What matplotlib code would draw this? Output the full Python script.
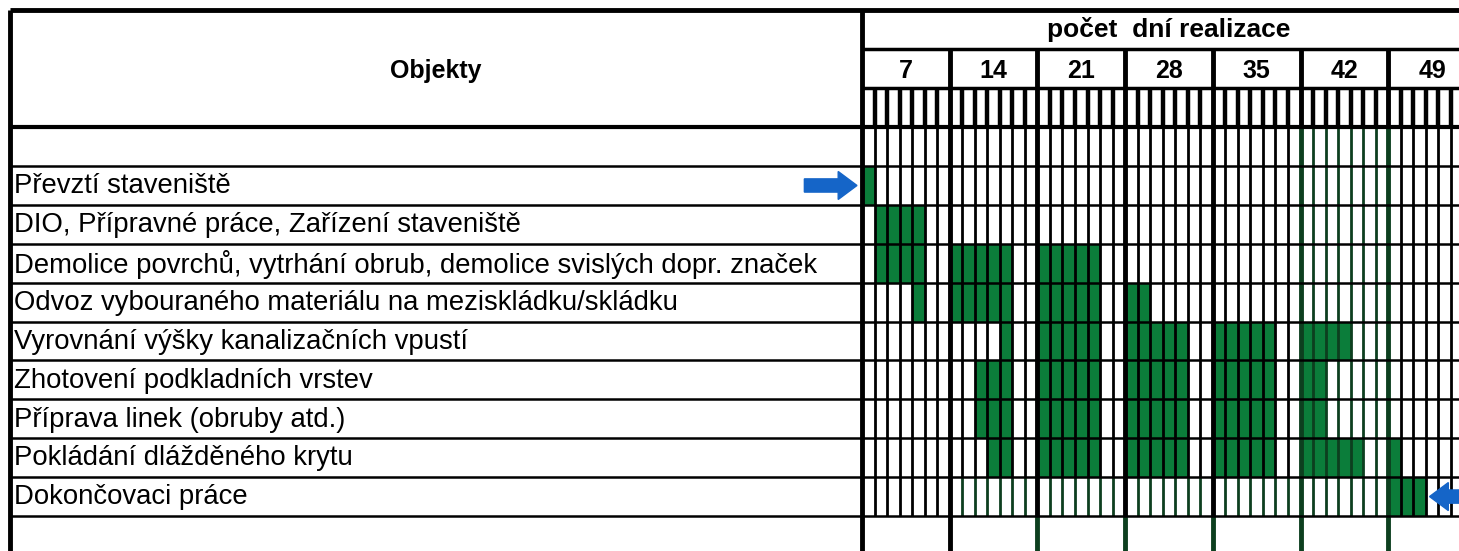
import matplotlib.pyplot as plt
from matplotlib.patches import FancyArrow

plt.rcParams['font.family'] = ['Liberation Sans', 'DejaVu Sans']

# Objekty a harmonogram (den zahájení, počet dní)
objekty = [
    'Převztí staveniště',
    'DIO, Přípravné práce, Zařízení staveniště',
    'Demolice povrchů, vytrhání obrub, demolice svislých dopr. značek',
    'Odvoz vybouraného materiálu na meziskládku/skládku',
    'Vyrovnání výšky kanalizačních vpustí',
    'Zhotovení podkladních vrstev',
    'Příprava linek (obruby atd.)',
    'Pokládání dlážděného krytu',
    'Dokončovaci práce',
]
zacatky = [
    [1],
    [2],
    [2, 8, 15],
    [5, 8, 15, 22],
    [12, 15, 22, 29, 36],
    [10, 15, 22, 29, 36],
    [10, 15, 22, 29, 36],
    [11, 15, 22, 29, 36, 43],
    [43],
]
delky = [
    [1],
    [4],
    [4, 5, 5],
    [1, 5, 5, 2],
    [1, 5, 5, 5, 4],
    [3, 5, 5, 5, 2],
    [3, 5, 5, 5, 2],
    [2, 5, 5, 5, 5, 1],
    [3],
]
tydny = ['7', '14', '21', '28', '35', '42', '49']

zelena = '#0b7d3a'
tmava_zelena = '#0d3f1f'
modra = '#1565c8'

fig = plt.figure(figsize=(14.59, 5.51), dpi=100)
ax = fig.add_axes([0, 0, 1, 1])
ax.set_xlim(-68.8, 47.65)
ax.set_ylim(9.9, -4.27)
ax.axis('off')

n = len(objekty)
dny = 7 * len(tydny)
levy = -68.0

# zelené pruhy
for i in range(n):
    for z, d in zip(zacatky[i], delky[i]):
        ax.barh(i + 0.5, d, left=z - 1, height=1, color=zelena, zorder=1)

# denní čáry
for d in range(1, dny):
    if d % 7 == 0:
        continue
    ax.vlines(d, -2, -1, color='black', lw=3.2, zorder=2)
    barva = tmava_zelena if 35 < d < 42 else 'black'
    ax.vlines(d, -1, n - 1, color=barva, lw=2.0, zorder=2)
    posl = tmava_zelena if 7 < d < 42 else 'black'
    ax.vlines(d, n - 1, n, color=posl, lw=2.0, zorder=2)

# týdenní čáry
for w in range(1, len(tydny)):
    x = 7 * w
    ax.vlines(x, -3, -1, color='black', lw=3.5, zorder=3)
    ax.vlines(x, -1, n, color=tmava_zelena if w >= 5 else 'black', lw=3.5, zorder=3)
    ax.vlines(x, n, 10.5, color=tmava_zelena if w >= 2 else 'black', lw=3.5, zorder=3)
ax.vlines([levy, 0], -4, 10.5, color='black', lw=3.5, zorder=3)

# vodorovné čáry
ax.hlines(-4, levy, 60, color='black', lw=3.5, zorder=3)
ax.hlines([-3, -2], 0, 60, color='black', lw=2.5, zorder=3)
ax.hlines(-1, levy, 60, color='black', lw=3.0, zorder=3)
ax.hlines(range(0, n + 1), levy, 60, color='black', lw=1.8, zorder=3)

# texty
ax.text(levy / 2, -2.45, 'Objekty', ha='center', va='center', fontsize=18, fontweight='bold')
ax.text(dny / 2, -3.5, 'počet  dní realizace', ha='center', va='center', fontsize=19, fontweight='bold')
for k, t in enumerate(tydny):
    ax.text(7 * k + 3.5, -2.45, t, ha='center', va='center', fontsize=18, fontweight='bold')
for i, o in enumerate(objekty):
    ax.text(levy + 0.35, i + 0.52, o, ha='left', va='center', fontsize=19.8)

# šipky
ax.add_patch(FancyArrow(-4.6, 0.5, 4.2, 0, width=0.34, head_width=0.72, head_length=1.5,
                        length_includes_head=True, color=modra, zorder=4))
ax.add_patch(FancyArrow(49.5, 8.5, -4.2, 0, width=0.34, head_width=0.72, head_length=1.5,
                        length_includes_head=True, color=modra, zorder=4))

plt.savefig('out.png', dpi=100)
